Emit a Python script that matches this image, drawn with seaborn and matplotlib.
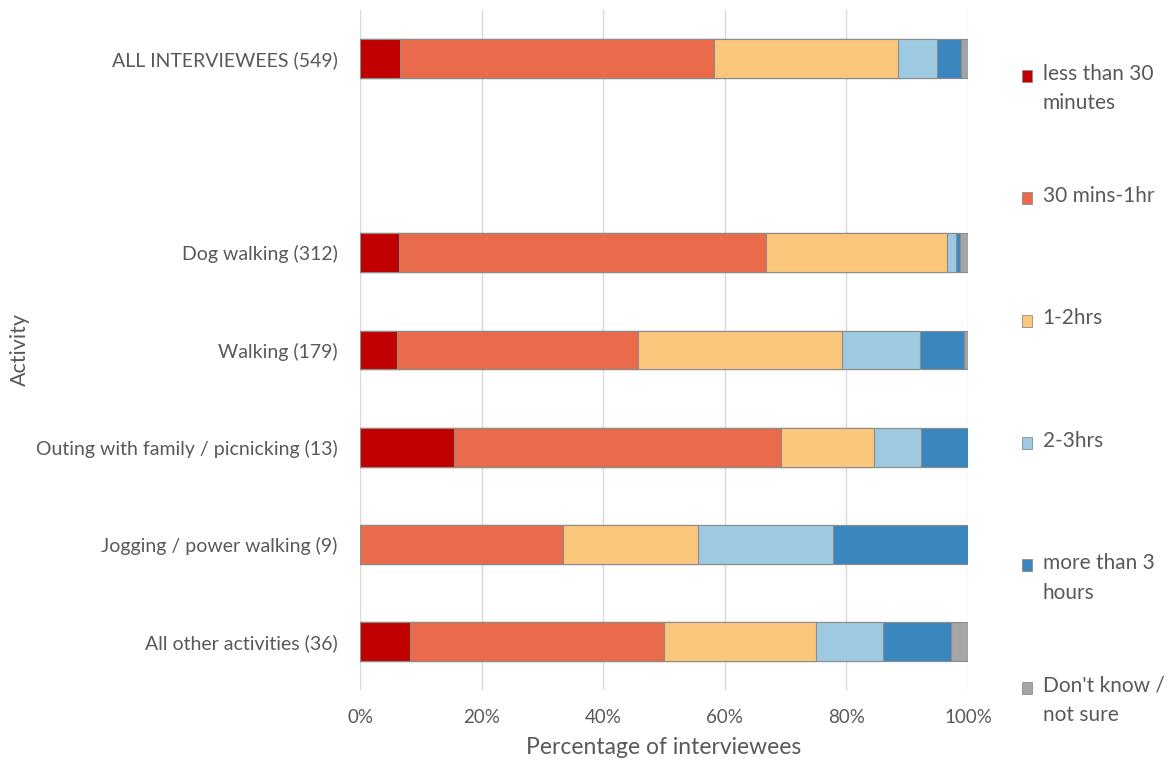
import numpy as np
import pandas as pd
import matplotlib
matplotlib.use("Agg")
import matplotlib.pyplot as plt
import matplotlib.patches as mpatches
from matplotlib.legend_handler import HandlerPatch
import seaborn as sns

# activities (rows) and time-spent categories (stack segments)
activities = ["ALL INTERVIEWEES (549)", "Dog walking (312)", "Walking (179)",
              "Outing with family / picnicking (13)", "Jogging / power walking (9)",
              "All other activities (36)"]
categories = ["less than 30 minutes", "30 mins-1hr", "1-2hrs", "2-3hrs",
              "more than 3 hours", "Don't know / not sure"]
legend_labels = ["less than 30\nminutes", "30 mins-1hr\n ", "1-2hrs\n ", "2-3hrs\n ",
                 "more than 3\nhours", "Don't know /\nnot sure"]

# percentage of interviewees per activity
less_30 = [6.6, 6.4, 6.1, 15.4, 0.0, 8.3]
mins_30_60 = [51.7, 60.3, 39.7, 53.8, 33.4, 41.7]
hrs_1_2 = [30.2, 29.8, 33.5, 15.4, 22.2, 25.0]
hrs_2_3 = [6.4, 1.6, 12.8, 7.7, 22.2, 11.1]
over_3 = [4.0, 0.6, 7.3, 7.7, 22.2, 11.1]
dont_know = [1.1, 1.3, 0.6, 0.0, 0.0, 2.8]

colors = ["#C00000", "#E96B4B", "#FAC77C", "#9ECAE1", "#3A87BF", "#A5A5A5"]

df = pd.DataFrame(np.array([less_30, mins_30_60, hrs_1_2, hrs_2_3, over_3, dont_know]).T,
                  columns=categories)
df["Activity"] = activities
cum = df[categories].cumsum(axis=1)
cum["Activity"] = activities

# empty slot between the total and the individual activities
order = [activities[0], " "] + activities[1:]

sns.set_style("white")
plt.rcParams["font.family"] = ["Lato", "DejaVu Sans"]
text_col = "#595959"
edge = "#8C8C8C"

fig = plt.figure(figsize=(11.7, 7.64), dpi=100)
ax = fig.add_axes([360 / 1170, 1 - 690 / 764, 608 / 1170, 680 / 764])

# stacked bars: draw cumulative totals from the largest down
for cat, c in zip(categories[::-1], colors[::-1]):
    sns.barplot(data=cum, x=cat, y="Activity", order=order, color=c, saturation=1,
                edgecolor=edge, linewidth=0.8, width=0.4, errorbar=None,
                orient="h", ax=ax)

ax.set_xlim(0, 100)
ax.set_xticks(range(0, 101, 20))
ax.set_xticklabels([f"{v}%" for v in range(0, 101, 20)])
ax.grid(axis="x", color="#D9D9D9", linewidth=1)
ax.set_axisbelow(True)
for s in ax.spines.values():
    s.set_visible(False)
ax.tick_params(axis="both", length=0, colors=text_col)
ax.tick_params(axis="y", pad=16, labelsize=14)
ax.tick_params(axis="x", pad=14, labelsize=13.5)

ax.set_xlabel("Percentage of interviewees", fontsize=16.5, color=text_col)
ax.set_ylabel("Activity", fontsize=15.5, color=text_col)
ax.xaxis.set_label_coords(0.5, (690 - 748) / 680)
ax.xaxis.label.set_va("center")
ax.yaxis.set_label_coords((20 - 360) / 608, 0.5)
ax.yaxis.label.set_va("center")


def top_square(legend, orig_handle, xdescent, ydescent, width, height, fontsize):
    # put the marker beside the first line of a two-line label
    return mpatches.Rectangle((-xdescent, -ydescent + fontsize * 0.63), width, height)


handles = [mpatches.Patch(facecolor=c, edgecolor=edge, linewidth=0.6) for c in colors]
leg = fig.legend(handles, legend_labels, loc="upper left",
                 bbox_to_anchor=(1003 / 1170, 1 - 45 / 764), frameon=False,
                 labelspacing=3.49, handlelength=0.5, handleheight=0.5, handletextpad=0.5,
                 fontsize=15, labelcolor=text_col,
                 handler_map={mpatches.Patch: HandlerPatch(patch_func=top_square)})
for t in leg.get_texts():
    t.set_linespacing(1.6)

fig.savefig("out.png", dpi=100)
